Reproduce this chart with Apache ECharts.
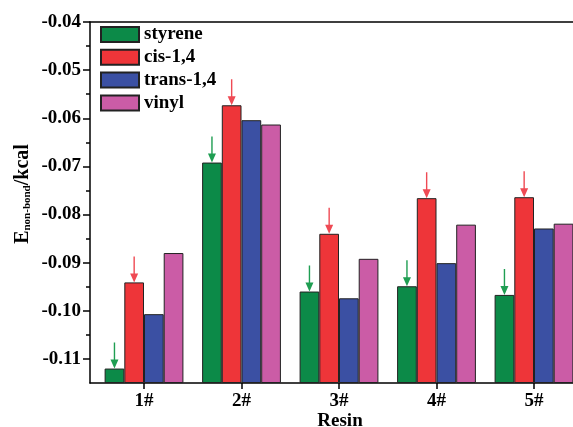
<!DOCTYPE html>
<html><head><meta charset="utf-8">
<script src="https://cdn.jsdelivr.net/npm/echarts@6/dist/echarts.min.js"></script>
<style>html,body{margin:0;padding:0;background:#fff}#c{width:573px;height:427px}</style>
</head><body><div id="c"></div>
<script>
const categories = ['1#', '2#', '3#', '4#', '5#'];
const seriesNames = ['styrene', 'cis-1,4', 'trans-1,4', 'vinyl'];
const styrene = [-0.1120, -0.0692, -0.0960, -0.0949, -0.0967];
const cis14   = [-0.0941, -0.0573, -0.0840, -0.0766, -0.0764];
const trans14 = [-0.1007, -0.0604, -0.0974, -0.0901, -0.0829];
const vinyl   = [-0.0880, -0.0613, -0.0892, -0.0821, -0.0819];
const yMajorTicks = [-0.11, -0.10, -0.09, -0.08, -0.07, -0.06, -0.05, -0.04];
const yMinorTicks = [-0.105, -0.095, -0.085, -0.075, -0.065, -0.055, -0.045];
const yMin = -0.115, yMax = -0.04;
const xPositions = [1, 2, 3, 4, 5];
const xMin = 0.446, xMax = 5.4;

const FONT = "'Liberation Serif','Times New Roman',serif";
const colors = ['#0c8a48', '#ee3539', '#3b50a3', '#cb5ca6'];
const arrowColors = ['#1f9e52', '#ef4a54'];
const arrowPath = 'path://M3.3,0 L4.7,0 L4.7,17 L8,17 L4,26 L0,17 L3.3,17 Z';

const seriesData = [styrene, cis14, trans14, vinyl];
const GRID_LEFT = 90, GRID_RIGHT = 0, W = 573;

function makeSeries(idx) {
  const arr = seriesData[idx];
  const s = {
    name: seriesNames[idx],
    type: 'bar',
    xAxisIndex: 0,
    yAxisIndex: 0,
    barWidth: 19.7,
    barGap: '0%',
    data: xPositions.map((x, i) => [x, arr[i]]),
    itemStyle: { color: colors[idx], borderColor: '#222', borderWidth: 1 },
    emphasis: { disabled: true },
    z: 2
  };
  if (idx < 2) {
    s.markPoint = {
      silent: true,
      symbol: arrowPath,
      symbolSize: [8, 26],
      symbolKeepAspect: false,
      symbolOffset: [0, -13],
      itemStyle: { color: arrowColors[idx] },
      label: { show: false },
      data: xPositions.map((x, i) => ({ coord: [x, arr[i]] }))
    };
  }
  return s;
}

const chart = echarts.init(document.getElementById('c'), null, { renderer: 'canvas' });
chart.setOption({
  animation: false,
  backgroundColor: '#fff',
  grid: { left: GRID_LEFT, right: GRID_RIGHT, top: 22, bottom: 44, containLabel: false, outerBoundsMode: 'none' },
  legend: {
    orient: 'vertical',
    left: 100, top: 25, padding: 0,
    itemWidth: 38, itemHeight: 15, itemGap: 3.8,
    icon: 'rect',
    textStyle: { fontFamily: FONT, fontWeight: 'bold', fontSize: 19, color: '#000' },
    data: seriesNames
  },
  xAxis: [{
    type: 'value', position: 'bottom', min: xMin, max: xMax,
    axisLine: { show: true, lineStyle: { color: '#000', width: 1.5 } },
    axisTick: { show: true, customValues: xPositions, length: 6, lineStyle: { color: '#000', width: 1.5 } },
    axisLabel: { customValues: xPositions, formatter: v => categories[Math.round(v) - 1], margin: 9,
      fontFamily: FONT, fontWeight: 'bold', fontSize: 19, color: '#000' },
    splitLine: { show: false },
    name: 'Resin', nameLocation: 'middle', nameGap: 29, nameMoveOverlap: false,
    nameTextStyle: { fontFamily: FONT, fontWeight: 'bold', fontSize: 19, color: '#000', padding: [0, 0, 0, 17] }
  }, {
    type: 'value', position: 'top', min: xMin, max: xMax,
    axisLine: { show: true, lineStyle: { color: '#000', width: 1.5 } },
    axisTick: { show: false }, axisLabel: { show: false }, splitLine: { show: false }
  }],
  yAxis: [{
    type: 'value', position: 'left', min: yMin, max: yMax, startValue: yMin,
    axisLine: { show: true, lineStyle: { color: '#000', width: 1.5 } },
    axisTick: { show: true, customValues: yMajorTicks, length: 7, lineStyle: { color: '#000', width: 1.5 } },
    axisLabel: { customValues: yMajorTicks, formatter: v => v.toFixed(2), margin: 9,
      fontFamily: FONT, fontWeight: 'bold', fontSize: 19, color: '#000' },
    splitLine: { show: false },
    name: '{e|E}{s|non-bond}{e|/kcal}', nameLocation: 'middle', nameGap: 57, nameRotate: 90, nameMoveOverlap: false,
    nameTextStyle: {
      color: '#000', padding: [0, 0, 0, 17],
      rich: {
        e: { fontFamily: FONT, fontWeight: 'bold', fontSize: 20, lineHeight: 20, verticalAlign: 'top', color: '#000' },
        s: { fontFamily: FONT, fontWeight: 'bold', fontSize: 11, lineHeight: 11, padding: [14, 0, 0, 0], verticalAlign: 'bottom', color: '#000' }
      }
    }
  }, {
    // minor ticks: placed at the right slot, shifted back onto the left edge
    type: 'value', position: 'right', offset: -(W - GRID_LEFT - GRID_RIGHT), min: yMin, max: yMax,
    axisLine: { show: false },
    axisTick: { show: true, inside: true, customValues: yMinorTicks, length: 4, lineStyle: { color: '#000', width: 1.5 } },
    axisLabel: { show: false }, splitLine: { show: false }
  }],
  series: [0, 1, 2, 3].map(makeSeries)
});
</script>
</body></html>
